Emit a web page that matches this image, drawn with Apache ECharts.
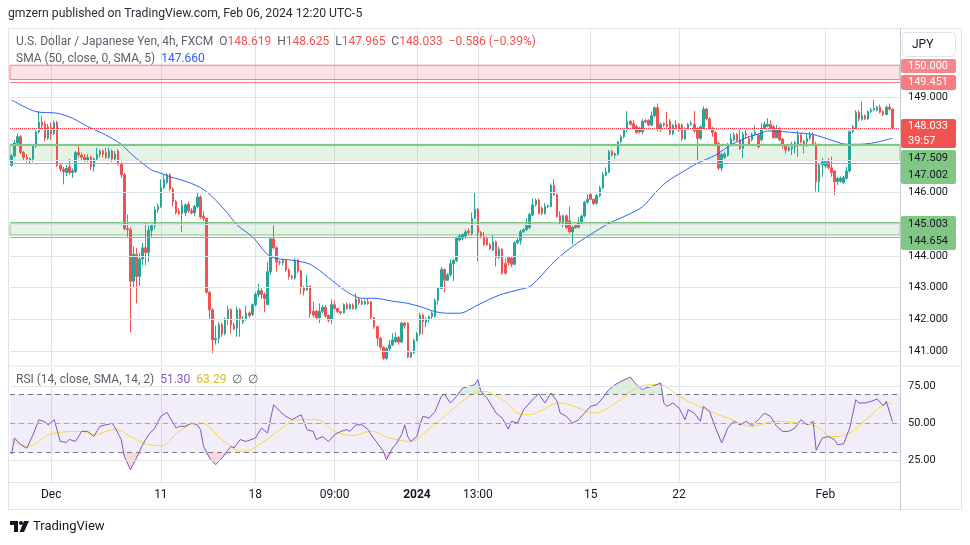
<!DOCTYPE html>
<html><head><meta charset="utf-8">
<script src="https://cdn.jsdelivr.net/npm/echarts@6.0.0/dist/echarts.min.js"></script>
<style>html,body{margin:0;padding:0;background:#fff}#c{width:970px;height:545px}</style>
</head><body><div id="c"></div>
<script>
// ---- DATA ----
// 4h candles: [open, high, low, close]
const ohlc = [
[146.85,147.20,146.80,147.15],[147.15,147.65,147.10,147.55],[147.55,147.85,147.50,147.75],[147.75,147.80,147.20,147.25],
[147.25,147.30,147.00,147.10],[147.10,147.20,146.95,147.05],[147.00,147.10,146.90,147.05],[147.05,147.50,146.95,147.45],
[147.45,147.95,147.40,147.90],[147.90,148.55,147.85,148.20],[148.20,148.40,148.00,148.10],[148.15,148.25,147.60,147.70],
[147.70,148.15,147.65,148.05],[148.05,148.20,147.65,147.85],[147.85,148.25,147.80,148.20],[148.20,148.25,146.80,146.85],
[146.85,146.90,146.65,146.73],[146.73,146.80,146.25,146.65],[146.62,146.85,146.50,146.75],[146.80,147.05,146.55,146.62],
[146.62,146.75,146.45,146.68],[146.65,147.30,146.60,147.25],[147.25,147.45,147.10,147.17],[147.17,147.25,147.00,147.10],
[147.10,147.20,146.95,147.00],[147.00,147.20,146.95,147.10],[147.10,147.15,146.70,146.80],[146.80,147.10,146.65,147.05],
[147.05,147.40,147.00,147.20],[147.20,147.35,147.10,147.30],[147.30,147.35,147.10,147.20],[147.25,147.40,147.05,147.10],
[147.10,147.40,147.05,147.30],[147.30,147.35,146.95,147.05],[147.05,147.30,147.00,147.20],[147.30,147.35,146.85,146.88],
[146.88,146.95,146.45,146.55],[146.55,146.60,144.80,144.85],[144.85,145.30,144.60,144.82],[144.82,144.90,141.58,143.20],
[143.20,144.30,143.00,144.05],[144.05,144.25,142.50,143.35],[143.35,144.10,143.05,143.90],[143.90,144.40,143.70,144.25],
[144.25,145.05,143.70,144.10],[144.10,144.95,143.80,144.80],[144.80,145.00,144.60,144.95],[144.95,145.55,144.85,145.45],
[145.45,145.65,145.35,145.55],[145.55,146.40,145.50,146.15],[146.15,146.55,146.10,146.40],[146.30,146.60,146.25,146.55],
[146.55,146.60,146.05,146.10],[146.10,146.15,145.55,145.70],[145.70,145.75,145.30,145.37],[145.40,145.50,145.28,145.33],
[145.33,145.75,144.75,145.60],[145.35,145.65,145.25,145.60],[145.62,145.70,145.35,145.42],[145.42,145.50,145.30,145.35],
[145.35,145.60,145.25,145.55],[145.55,145.98,145.50,145.85],[145.85,145.90,145.15,145.22],[145.25,145.40,145.10,145.18],
[145.18,145.20,142.80,142.85],[142.85,142.90,142.00,142.30],[142.30,142.35,140.93,141.35],[141.35,141.80,141.20,141.40],
[141.40,141.90,141.25,141.83],[141.83,141.90,141.45,141.53],[141.55,142.05,141.50,142.00],[142.00,142.42,141.82,142.30],
[142.30,142.35,141.55,141.82],[141.82,141.90,141.65,141.70],[141.72,142.40,141.45,142.30],[142.30,142.35,141.45,142.00],
[141.90,142.10,141.85,142.00],[142.00,142.42,141.95,142.20],[142.20,142.25,142.05,142.12],[142.15,142.50,142.10,142.46],
[142.46,142.85,142.40,142.78],[142.78,143.12,142.70,142.90],[142.90,142.98,142.65,142.78],[142.78,142.85,142.22,142.65],
[142.46,143.80,142.45,143.50],[143.50,144.55,143.40,144.53],[144.53,144.95,144.20,144.25],[144.25,144.30,143.50,143.80],
[143.80,143.85,143.70,143.78],[143.78,143.90,143.70,143.85],[143.85,143.90,143.50,143.55],[143.55,143.60,143.25,143.35],
[143.35,143.40,143.25,143.30],[143.30,143.92,143.25,143.86],[143.86,143.90,143.45,143.52],[143.52,143.55,142.78,143.00],
[143.00,143.05,142.75,142.90],[142.92,143.40,142.90,143.05],[143.05,143.06,142.05,142.17],[142.25,142.55,142.05,142.13],
[142.25,142.30,142.00,142.05],[142.05,142.50,141.88,142.25],[142.25,142.45,142.20,142.38],[142.38,142.45,142.05,142.10],
[142.12,142.15,141.90,141.97],[141.98,142.63,141.85,142.46],[142.46,142.60,142.30,142.34],[142.34,142.36,142.20,142.24],
[142.24,142.26,142.15,142.20],[142.20,142.50,142.18,142.46],[142.46,142.53,142.30,142.34],[142.34,142.50,142.30,142.46],
[142.44,142.50,142.30,142.34],[142.34,142.82,142.30,142.63],[142.63,142.70,142.46,142.53],[142.56,142.62,142.44,142.48],
[142.48,142.62,142.45,142.55],[142.55,142.65,142.45,142.50],[142.55,142.56,142.00,142.05],[142.05,142.08,141.70,141.77],
[141.77,141.80,141.15,141.40],[141.40,141.45,141.05,141.12],[141.12,141.15,140.72,140.77],[140.77,141.12,140.72,141.08],
[141.08,141.35,141.00,141.19],[141.19,141.56,141.15,141.35],[141.30,141.59,141.25,141.43],[141.43,141.48,141.20,141.28],
[141.28,141.92,141.25,141.88],[141.88,141.92,141.70,141.80],[141.88,141.90,140.78,140.81],[140.81,141.00,140.78,140.95],
[140.95,141.38,140.90,141.33],[141.33,141.60,141.30,141.54],[141.54,142.20,141.48,142.13],[142.13,142.18,141.52,141.93],
[141.90,142.05,141.75,142.00],[141.98,142.12,141.90,142.08],[142.08,142.25,142.00,142.20],[142.10,142.65,142.05,142.60],
[142.60,143.02,142.46,142.97],[142.97,143.65,142.95,143.57],[143.57,143.60,142.85,143.23],[143.23,143.45,143.20,143.40],
[143.40,143.88,143.35,143.75],[143.75,143.90,143.20,143.85],[143.85,144.60,143.80,144.55],[144.50,144.68,144.45,144.62],
[144.55,144.70,144.48,144.67],[144.62,144.83,144.52,144.75],[144.78,144.86,144.66,144.73],[144.70,145.36,144.65,145.18],
[145.18,145.98,145.15,145.47],[145.47,145.50,143.82,144.73],[144.73,144.78,144.55,144.63],[144.60,144.75,144.30,144.35],
[144.55,144.60,144.30,144.35],[144.35,144.40,144.18,144.23],[144.18,144.65,144.15,144.44],[144.44,144.48,143.66,143.94],
[143.94,144.29,143.90,144.21],[144.21,144.23,143.40,143.45],[143.75,143.92,143.40,143.45],[143.95,144.00,143.70,143.78],
[143.92,143.97,143.65,143.73],[143.73,144.45,143.70,144.41],[144.41,144.55,144.38,144.48],[144.48,144.82,144.35,144.76],
[144.76,144.86,144.72,144.82],[144.82,145.18,144.78,144.96],[144.88,145.35,144.85,145.30],[145.28,145.80,145.25,145.60],
[145.60,145.80,145.55,145.75],[145.75,145.80,145.30,145.33],[145.50,145.55,145.28,145.33],[145.33,145.65,145.30,145.55],
[145.55,145.62,145.50,145.58],[145.55,146.28,145.52,146.22],[146.22,146.41,145.88,145.92],[145.92,145.96,145.20,145.23],
[145.26,145.40,145.00,145.05],[145.05,145.30,144.90,145.26],[145.26,145.30,144.85,144.88],[145.10,145.55,144.70,144.75],
[144.75,144.95,144.35,144.90],[144.95,145.00,144.85,144.88],[144.90,145.22,144.85,145.05],[145.05,145.30,145.00,145.25],
[145.25,145.73,145.20,145.68],[145.68,145.93,145.65,145.78],[145.93,145.98,145.75,145.78],[145.78,145.80,145.60,145.65],
[145.65,145.95,145.62,145.89],[145.89,146.20,145.85,146.14],[146.14,146.63,146.10,146.54],[146.54,146.78,146.50,146.63],
[146.63,147.33,146.60,147.28],[147.28,147.33,147.12,147.17],[147.17,147.25,147.06,147.22],[147.20,147.62,147.15,147.59],
[147.59,147.80,147.55,147.75],[147.75,148.00,147.70,147.96],[147.96,148.55,147.90,148.24],[148.24,148.27,148.10,148.14],
[148.16,148.27,147.98,148.03],[148.08,148.12,147.84,147.88],[148.02,148.06,147.85,147.90],[147.90,148.30,147.82,148.24],
[148.26,148.30,148.18,148.22],[148.26,148.30,148.08,148.12],[148.12,148.54,148.08,148.41],[148.41,148.70,148.35,148.66],
[148.66,148.80,147.92,147.96],[147.96,148.20,147.90,148.14],[148.16,148.20,148.05,148.12],[148.14,148.54,148.03,148.08],
[148.24,148.30,147.80,147.85],[147.84,148.15,147.80,148.10],[148.12,148.27,148.00,148.04],[148.14,148.18,147.90,147.96],
[148.12,148.16,147.62,147.68],[147.68,148.05,147.65,148.00],[148.00,148.18,147.95,148.14],[148.14,148.25,148.10,148.18],
[148.14,148.56,147.88,147.93],[147.99,148.05,146.99,147.70],[147.70,148.10,147.65,148.06],[148.04,148.70,147.99,148.62],
[148.62,148.66,148.26,148.31],[148.31,148.36,147.96,148.01],[148.01,148.06,147.75,147.88],[147.88,147.92,147.46,147.51],
[147.54,147.58,146.70,146.76],[146.76,147.24,146.66,147.19],[147.10,147.28,147.05,147.20],[147.17,147.55,147.12,147.49],
[147.49,147.85,147.45,147.68],[147.65,147.88,147.60,147.80],[147.82,147.86,147.60,147.64],[147.64,147.96,147.33,147.38],
[147.38,147.90,147.08,147.82],[147.85,147.96,147.68,147.80],[147.70,147.75,147.48,147.52],[147.65,147.88,147.60,147.82],
[147.82,148.10,147.78,147.88],[147.80,147.85,147.38,147.43],[147.65,148.17,147.60,148.01],[148.01,148.22,147.98,148.14],
[148.08,148.33,148.05,148.14],[148.14,148.27,147.98,148.01],[148.06,148.12,147.68,147.72],[147.72,148.12,147.70,148.01],
[148.01,148.05,147.60,147.65],[147.68,147.70,147.38,147.47],[147.49,147.52,147.22,147.33],[147.33,147.45,147.28,147.40],
[147.38,147.59,147.17,147.43],[147.43,147.62,147.22,147.56],[147.49,147.93,147.12,147.80],[147.80,147.86,147.55,147.59],
[147.61,147.64,147.22,147.51],[147.59,147.86,147.43,147.70],[147.70,147.91,147.65,147.80],[147.80,147.88,147.48,147.51],
[147.51,147.59,146.02,146.33],[146.33,146.90,146.02,146.86],[146.86,147.07,146.49,146.96],[146.83,147.00,146.75,146.96],
[146.96,147.07,146.72,146.77],[146.77,147.12,146.49,146.62],[146.67,146.70,145.91,146.33],[146.33,146.49,146.23,146.44],
[146.35,146.50,146.30,146.44],[146.30,146.52,146.25,146.46],[146.44,146.80,146.40,146.67],[146.67,147.95,146.62,147.91],
[147.91,148.12,147.85,148.06],[148.01,148.58,147.96,148.52],[148.52,148.59,148.24,148.31],[148.30,148.85,148.26,148.41],
[148.41,148.45,148.28,148.31],[148.31,148.58,148.28,148.54],[148.54,148.66,148.50,148.59],[148.59,148.90,148.55,148.64],
[148.59,148.72,148.55,148.68],[148.68,148.76,148.48,148.52],[148.54,148.58,148.40,148.45],[148.45,148.74,148.42,148.68],
[148.68,148.80,148.56,148.62],[148.619,148.625,147.965,148.033]
];
// SMA(50) read at candle indices: [index, value]
const smaPoints = [[0,148.91],[8,148.54],[15,148.49],[20,148.33],[25,148.07],[31,147.80],[36,147.51],[39,147.23],[43,146.91],[46,146.70],[49,146.60],[52,146.49],[59,146.28],[64,146.02],[70,145.44],[74,144.97],[79,144.60],[85,143.97],[92,143.86],[98,143.73],[104,143.31],[110,142.87],[115,142.66],[119,142.66],[125,142.57],[130,142.50],[134,142.40],[139,142.24],[143,142.19],[147,142.19],[153,142.45],[160,142.76],[166,142.92],[170,143.03],[173,143.29],[178,143.81],[184,144.29],[190,144.67],[196,145.02],[202,145.28],[207,145.54],[211,145.96],[215,146.33],[220,146.63],[225,146.91],[231,147.17],[236,147.49],[242,147.75],[246,147.86],[248,147.93],[253,147.91],[259,147.86],[263,147.82],[269,147.64],[274,147.51],[278,147.51],[283,147.56],[289,147.70]];
// RSI(14): [index, value]
const rsiPoints = [[0,29.0],[1,40.0],[3,35.5],[5,33.0],[7,42.0],[9,52.5],[11,51.0],[12,48.9],[14,52.5],[16,37.7],[18,37.0],[19,39.0],[21,37.7],[23,44.5],[25,44.5],[27,41.0],[29,48.0],[31,49.0],[33,50.0],[34,47.0],[36,38.9],[37,27.5],[39,18.4],[41,26.4],[43,35.5],[45,42.3],[47,46.8],[49,54.8],[51,57.5],[54,46.8],[55,48.0],[57,48.0],[59,50.2],[61,49.0],[62,45.7],[63,34.3],[65,26.4],[67,21.8],[69,26.4],[72,34.3],[73,33.2],[75,38.9],[77,37.7],[80,40.0],[82,46.8],[84,43.4],[86,62.7],[88,58.2],[90,54.8],[92,52.5],[95,55.9],[97,45.7],[99,44.5],[100,38.9],[102,41.0],[104,37.7],[106,42.3],[108,44.5],[110,45.7],[111,44.5],[113,49.0],[115,49.0],[117,45.7],[118,42.3],[120,36.6],[122,30.9],[123,25.2],[125,33.2],[126,35.5],[128,42.3],[129,49.0],[130,41.0],[131,37.7],[133,41.0],[134,49.0],[135,54.8],[137,53.6],[139,58.2],[141,68.4],[142,70.0],[144,63.9],[146,68.4],[148,74.1],[150,75.2],[152,76.4],[153,79.8],[154,71.8],[156,67.3],[158,60.5],[159,57.0],[161,53.6],[163,46.1],[164,51.4],[166,50.2],[168,59.3],[170,63.9],[172,68.4],[173,70.2],[175,63.9],[177,70.7],[179,65.0],[180,57.0],[182,54.8],[184,50.2],[186,52.5],[188,57.0],[190,61.6],[192,62.7],[194,67.3],[196,73.0],[198,76.4],[200,78.6],[203,81.6],[205,76.4],[207,73.0],[208,74.1],[210,75.2],[213,77.5],[214,63.9],[215,61.6],[217,63.9],[219,60.5],[221,52.5],[222,59.3],[224,57.0],[226,51.4],[227,61.6],[229,58.2],[231,46.8],[233,36.6],[235,46.8],[237,51.4],[239,49.0],[241,51.4],[243,48.4],[245,52.5],[247,57.0],[249,54.8],[251,48.0],[253,44.5],[255,44.5],[257,46.8],[259,52.5],[261,49.0],[263,51.4],[264,31.6],[266,40.0],[268,41.0],[270,38.9],[271,35.5],[273,36.0],[275,46.8],[277,66.1],[278,63.9],[280,63.9],[282,65.0],[284,66.6],[286,62.0],[287,65.0],[289,51.3]];
// RSI-based SMA(14): [index, value]
const rsiSmaPoints = [[0,38.9],[5,34.3],[14,43.4],[23,44.5],[27,42.3],[34,46.0],[39,41.0],[45,35.5],[49,34.8],[55,44.5],[61,50.2],[64,49.0],[69,38.9],[76,30.9],[82,36.6],[88,45.7],[94,52.5],[100,52.5],[106,44.5],[112,41.8],[118,44.5],[124,40.0],[131,37.7],[136,44.5],[142,54.8],[151,69.5],[155,71.8],[161,66.1],[168,55.9],[172,57.0],[180,63.9],[186,60.5],[191,57.0],[199,65.0],[205,74.1],[212,76.4],[220,67.3],[228,59.3],[235,53.6],[243,48.0],[250,51.4],[258,50.2],[264,48.0],[269,41.0],[274,42.3],[281,53.6],[288,63.9],[289,63.29]];
const priceTicks = [141,142,143,144,145,146,147,148,149];
const rsiTicks = [25,50,75];
const timeLabels = [[13,'Dec'],[49,'11'],[80,'18'],[106,'09:00'],[133,'2024'],[153,'13:00'],[190,'15'],[219,'22'],[267,'Feb']];
const redZone = [150.0, 149.55];
const redZoneLine = 149.47;
const greenZoneA = [147.509, 147.002];
const greenZoneALine = 146.92;
const greenZoneB = [145.003, 144.654];
const greenZoneBLines = [145.06, 144.57];
const lastPrice = 148.033;
const axisBadges = [
  {top:59, h:14, bg:'#f7868a', fg:'#ffffff', texts:['150.000']},
  {top:75, h:15, bg:'#f77c80', fg:'#ffffff', texts:['149.451']},
  {top:119, h:29, bg:'#f05350', fg:'#ffffff', texts:['148.033','39:57']},
  {top:150, h:34, bg:'#81c784', fg:'#131722', texts:['147.509','147.002']},
  {top:216, h:34, bg:'#81c784', fg:'#131722', texts:['145.003','144.654']}
];

// ---- CHART ----
const FONT = 'Roboto, "Noto Sans", sans-serif';
const N_SLOTS = ohlc.length + 2;
const cats = Array.from({length:N_SLOTS}, (_, i) => String(i));
const labelMap = new Map(timeLabels);
const candleData = ohlc.map(r => [r[0], r[3], r[2], r[1]]);
const UP = '#26a69a', DOWN = '#ef5350';
const nulls = cats.map(() => null);
const GRID_C = '#dfe3ec';

function gridLine(v, color, type, width, withLabel, fmt) {
  return {yAxis: v, lineStyle:{color, type, width}, label: withLabel ? {show:true, position:'end', formatter: fmt, color:'#131722', fontSize:11, fontFamily:FONT, distance:8} : {show:false}};
}
const vSplit = {show:true, alignWithLabel:true, interval:(i)=>labelMap.has(i), lineStyle:{color:GRID_C, width:1, type:'solid'}};

const chart = echarts.init(document.getElementById('c'));
const xBase = {type:'category', data:cats, boundaryGap:true, axisLine:{show:false}, axisTick:{show:false, alignWithLabel:true, interval:(i)=>labelMap.has(i)}, splitLine:vSplit};
const option = {
  animation:false,
  backgroundColor:'#ffffff',
  textStyle:{fontFamily:FONT},
  grid:[{left:10, top:29, width:890, height:336},{left:10, top:367, width:890, height:115}],
  xAxis:[
    Object.assign({}, xBase, {gridIndex:0, axisLabel:{show:false, interval:(i)=>labelMap.has(i)}}),
    Object.assign({}, xBase, {gridIndex:1,
      axisLabel:{show:true, interval:(i)=>labelMap.has(i), margin:7, color:'#131722', fontSize:12, fontFamily:FONT,
        formatter:(v)=>{const t = labelMap.get(+v); return t === '2024' ? '{b|2024}' : (t || '');},
        rich:{b:{fontWeight:'bold', fontSize:12, color:'#131722', fontFamily:FONT}}}})
  ],
  yAxis:[
    {type:'value', gridIndex:0, min:140.559, max:151.142, position:'right', axisLine:{show:false}, axisTick:{show:false}, axisLabel:{show:false}, splitLine:{show:false}},
    {type:'value', gridIndex:1, min:10.0, max:88.44, position:'right', axisLine:{show:false}, axisTick:{show:false}, axisLabel:{show:false}, splitLine:{show:false}}
  ],
  series:[
    {type:'line', xAxisIndex:0, yAxisIndex:0, data:nulls, silent:true, z:1, symbol:'none',
      markArea:{silent:true, data:[
        [{yAxis:redZone[0], itemStyle:{color:'rgba(242,54,69,0.14)', borderColor:'#f77c80', borderWidth:1}},{yAxis:redZone[1]}],
        [{yAxis:greenZoneA[0], itemStyle:{color:'rgba(76,175,80,0.14)', borderColor:'#81c784', borderWidth:1}},{yAxis:greenZoneA[1]}],
        [{yAxis:greenZoneB[0], itemStyle:{color:'rgba(76,175,80,0.14)', borderColor:'#81c784', borderWidth:1}},{yAxis:greenZoneB[1]}]
      ]},
      markLine:{silent:true, symbol:['none','none'], data:[
        ...priceTicks.map(v => gridLine(v, GRID_C, 'solid', 1, true, p => p.value.toFixed(3))),
        gridLine(redZoneLine, '#f77c80', 'solid', 1, false),
        gridLine(greenZoneA[0], '#81c784', 'solid', 2, false),
        gridLine(greenZoneALine, '#81c784', 'solid', 1, false),
        ...greenZoneBLines.map(v => gridLine(v, '#81c784', 'solid', 1, false))
      ]}},
    {type:'candlestick', xAxisIndex:0, yAxisIndex:0, data:candleData, z:3, barWidth:2,
      itemStyle:{color:UP, color0:DOWN, borderColor:UP, borderColor0:DOWN, borderWidth:1},
      markLine:{silent:true, symbol:['none','none'], data:[gridLine(lastPrice, '#f23645', 'dotted', 1, false)]}},
    {type:'line', xAxisIndex:0, yAxisIndex:0, data:smaPoints, z:4, symbol:'none', smooth:0.3, silent:true,
      lineStyle:{color:'#2962ff', width:1}},
    // RSI pane
    {type:'line', xAxisIndex:1, yAxisIndex:1, data:nulls, silent:true, z:1, symbol:'none',
      markArea:{silent:true, data:[[{yAxis:70, itemStyle:{color:'rgba(126,87,194,0.1)'}},{yAxis:30}]]},
      markLine:{silent:true, symbol:['none','none'], data:[
        ...rsiTicks.map(v => gridLine(v, GRID_C, 'solid', 1, true, p => p.value.toFixed(2))),
        gridLine(70, '#787b86', [5,4], 1, false),
        gridLine(50, 'rgba(120,123,134,0.6)', [5,4], 1, false),
        gridLine(30, '#787b86', [5,4], 1, false)
      ]}},
    {type:'line', xAxisIndex:1, yAxisIndex:1, data:rsiPoints.map(([i,v]) => [i, Math.max(v,70)]), z:2, symbol:'none', silent:true,
      lineStyle:{width:0, opacity:0}, areaStyle:{origin:70, color:'rgba(76,175,80,0.28)'}},
    {type:'line', xAxisIndex:1, yAxisIndex:1, data:rsiPoints.map(([i,v]) => [i, Math.min(v,30)]), z:2, symbol:'none', silent:true,
      lineStyle:{width:0, opacity:0}, areaStyle:{origin:30, color:'rgba(242,54,69,0.28)'}},
    {type:'line', xAxisIndex:1, yAxisIndex:1, data:rsiSmaPoints, z:3, symbol:'none', smooth:0.4, silent:true,
      lineStyle:{color:'#fdd835', width:1}},
    {type:'line', xAxisIndex:1, yAxisIndex:1, data:rsiPoints, z:4, symbol:'none', silent:true,
      lineStyle:{color:'#7e57c2', width:1}}
  ]
};

// texts and frame
const G = [];
const txt = (x, y, text, extra) => G.push({type:'text', silent:true, z:100, style:Object.assign({x, y, text, fill:'#131722', font:'12px ' + FONT, textVerticalAlign:'middle'}, extra||{})});
const line = (x1,y1,x2,y2,c) => G.push({type:'line', silent:true, z:90, shape:{x1,y1,x2,y2}, style:{stroke:c, lineWidth:1}});
txt(8, 14, 'gmzern published on TradingView.com, Feb 06, 2024 12:20 UTC-5', {font:'12.2px ' + FONT, fill:'#2a2e39'});
G.push({type:'rect', silent:true, z:90, shape:{x:8.5, y:28.5, width:953, height:481}, style:{fill:null, stroke:'#e0e3eb', lineWidth:1}});
line(900.5, 28.5, 900.5, 510, '#c4c7cf');
line(8.5, 366, 961.5, 366, '#e0e3eb');
line(8.5, 482.5, 900.5, 482.5, '#e0e3eb');
const LF = '12px ' + FONT;
const leg = {g:{fill:'#5d606b', font:LF}, r:{fill:'#ef5350', font:LF}, b:{fill:'#2962ff', font:LF}, p:{fill:'#7e57c2', font:LF}, y:{fill:'#d9b820', font:LF}};
txt(16, 42, '{g|U.S. Dollar / Japanese Yen, 4h, FXCM  O}{r|148.619}{g|  H}{r|148.625}{g|  L}{r|147.965}{g|  C}{r|148.033}{g|  }{r|−0.586 (−0.39%)}', {rich:leg});
txt(16, 59, '{g|SMA (50, close, 0, SMA, 5)  }{b|147.660}', {rich:leg});
txt(16, 380, '{g|RSI (14, close, SMA, 14, 2)  }{p|51.30}{g|  }{y|63.29}{g|  ∅  ∅}', {rich:leg});
// JPY button
G.push({type:'rect', silent:true, z:95, shape:{x:902.5, y:32.5, width:53, height:24, r:4}, style:{fill:'#ffffff', stroke:'#e0e3eb', lineWidth:1}});
txt(912, 45, 'JPY', {font:'12px ' + FONT});
// price-axis badges
axisBadges.forEach(b => {
  G.push({type:'rect', silent:true, z:95, shape:{x:901, y:b.top, width:55, height:b.h, r:2}, style:{fill:b.bg}});
  const step = b.h / b.texts.length;
  b.texts.forEach((t, k) => txt(908, b.top + step*(k+0.5), t, {fill:b.fg, font:'11px ' + FONT}));
});
// footer logo
G.push({type:'polygon', silent:true, z:95, shape:{points:[[10,521],[18,521],[18,532],[14,532],[14,525],[10,525]]}, style:{fill:'#131722'}});
G.push({type:'circle', silent:true, z:95, shape:{cx:21, cy:523, r:2}, style:{fill:'#131722'}});
G.push({type:'polygon', silent:true, z:95, shape:{points:[[24,521],[29,521],[24,532],[19.5,532]]}, style:{fill:'#131722'}});
txt(33, 527, 'TradingView', {font:'13px ' + FONT});
option.graphic = G;

chart.setOption(option);
</script></body></html>
